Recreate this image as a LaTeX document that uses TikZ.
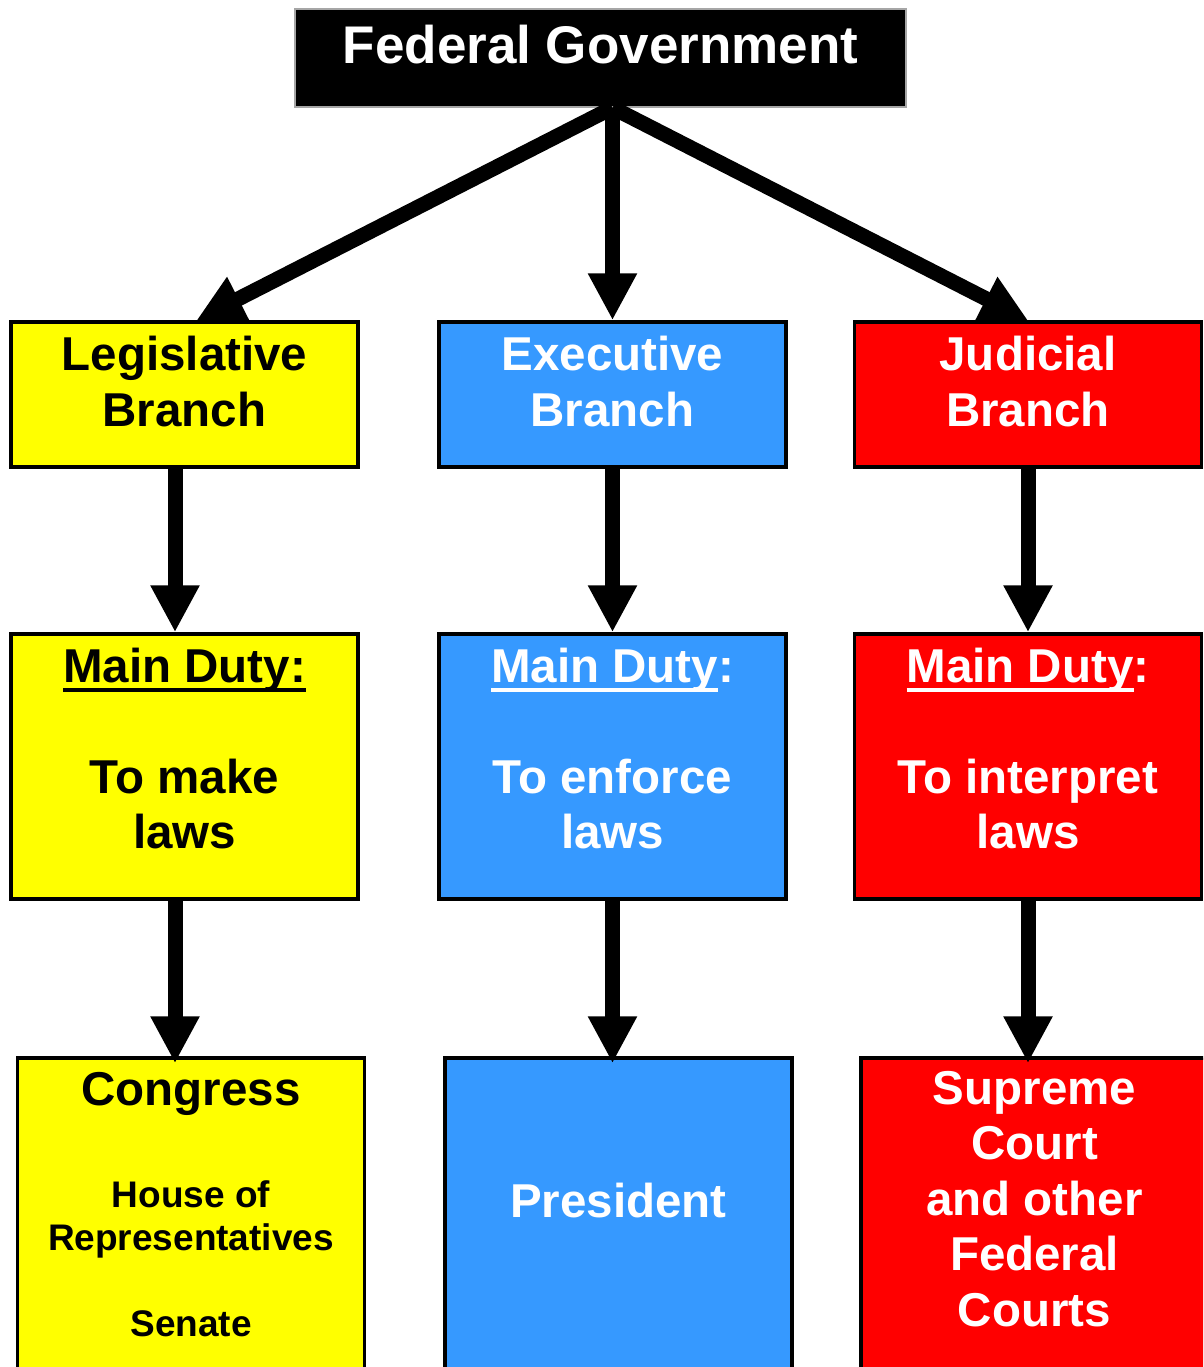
\documentclass[tikz,border=0pt]{standalone}
\usepackage{fontspec}
\setmainfont{Liberation Sans}
\usetikzlibrary{arrows.meta,calc}
\definecolor{legyellow}{RGB}{255,255,0}
\definecolor{exeblue}{RGB}{54,153,255}
\definecolor{judred}{RGB}{255,0,0}
% underline set close under the baseline
\newcommand{\dutyul}[1]{\setbox0\hbox{#1}\rlap{\rule[-9pt]{\wd0}{3.5pt}}\box0}

\begin{document}
\begin{tikzpicture}[x=1pt,y=-1pt,
    govbox/.style={draw=black,line width=3.5pt,minimum width=347pt,inner sep=0pt},
    btext/.style={anchor=north,inner sep=0pt,align=center,font=\fontsize{47.5}{55.5}\selectfont\bfseries},
    smalltext/.style={anchor=north,inner sep=0pt,align=center,font=\fontsize{37}{43}\selectfont\bfseries},
    flow/.style={-{Triangle[length=47pt,width=46pt]},line width=15pt}]
  \clip (0,0) rectangle (1203,1367);
  \fill[white] (0,0) rectangle (1203,1367);

  % top
  \node[draw=gray!70,line width=1.5pt,fill=black,minimum width=611pt,minimum height=98pt] (fed) at (600.5,58) {};
  \node[anchor=north,inner sep=0pt,text=white,font=\fontsize{53}{60}\selectfont\bfseries] (fedt) at (600.5,25) {Federal Government};

  % branches
  \node[govbox,fill=legyellow,minimum height=145pt] (leg) at (184.5,394.5) {};
  \node[govbox,fill=exeblue,minimum height=145pt] (exe) at (612.5,394.5) {};
  \node[govbox,fill=judred,minimum height=145pt] (jud) at (1028,394.5) {};
  \node[btext] (legt) at (184.5,336) {Legislative\\Branch};
  \node[btext,text=white] (exet) at (612.5,336) {Executive\\Branch};
  \node[btext,text=white] (judt) at (1028,336) {Judicial\\Branch};

  % duties
  \node[govbox,fill=legyellow,minimum height=265pt] (legduty) at (184.5,766.5) {};
  \node[govbox,fill=exeblue,minimum height=265pt] (exeduty) at (612.5,766.5) {};
  \node[govbox,fill=judred,minimum height=265pt] (judduty) at (1028,766.5) {};
  \node[btext] (legdutyt) at (184.5,648) {\dutyul{Main Duty:}\\[55pt]To make\\laws};
  \node[btext,text=white] (exedutyt) at (612.5,648) {\dutyul{Main Duty}:\\[55pt]To enforce\\laws};
  \node[btext,text=white] (juddutyt) at (1028,648) {\dutyul{Main Duty}:\\[55pt]To interpret\\laws};

  % who does it
  \node[govbox,fill=legyellow,minimum height=342pt] (congress) at (191,1229) {};
  \node[govbox,fill=exeblue,minimum height=342pt] (president) at (618.5,1229) {};
  \node[govbox,fill=judred,minimum height=342pt] (courts) at (1034.5,1229) {};
  \node[btext] (congresst) at (191,1072) {Congress};
  \node[smalltext] (houses) at (191,1180) {House of\\Representatives\\[43pt]Senate};
  \node[btext,text=white] (presidentt) at (618.5,1183) {President};
  \node[btext,text=white] (courtst) at (1034.5,1071) {Supreme\\Court\\and other\\Federal\\Courts};

  % arrows
  \coordinate (hub) at ($(fed.south)+(12,0)$);
  \draw[flow] (hub) -- ($(leg.north)+(12,0)$);
  \draw[flow] (hub) -- (exe.north);
  \draw[flow] (hub) -- (jud.north);
  \draw[flow] ($(leg.south)+(-9.5,0)$) -- ($(legduty.north)+(-9.5,0)$);
  \draw[flow] (exe.south) -- (exeduty.north);
  \draw[flow] (jud.south) -- (judduty.north);
  \draw[flow] ($(legduty.south)+(-9.5,0)$) -- ($(congress.north)+(-16,7)$);
  \draw[flow] (exeduty.south) -- ($(president.north)+(-6,7)$);
  \draw[flow] (judduty.south) -- ($(courts.north)+(-6.5,7)$);
\end{tikzpicture}
\end{document}
